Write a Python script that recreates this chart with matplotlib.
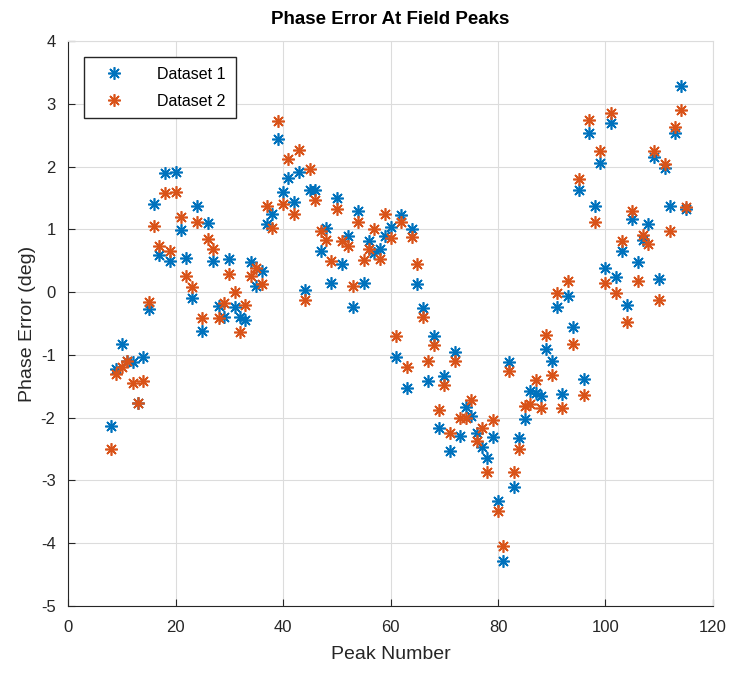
import matplotlib.pyplot as plt

peaks = list(range(8, 116))

dataset1 = [-2.13, -1.22, -0.82, -1.10, -1.12, -1.77, -1.04, -0.27, 1.40, 0.59,
            1.89, 0.50, 1.92, 0.99, 0.55, -0.09, 1.37, -0.62, 1.10, 0.49,
            -0.22, -0.39, 0.53, -0.24, -0.40, -0.45, 0.48, 0.10, 0.34, 1.09,
            1.24, 2.44, 1.60, 1.82, 1.43, 1.92, 0.03, 1.62, 1.62, 0.65,
            1.02, 0.14, 1.50, 0.45, 0.89, -0.23, 1.29, 0.15, 0.82, 0.63,
            0.68, 0.90, 1.03, -1.04, 1.23, -1.53, 1.00, 0.13, -0.25, -1.41,
            -0.70, -2.17, -1.33, -2.53, -0.96, -2.29, -1.83, -1.97, -2.25, -2.47,
            -2.64, -2.30, -3.33, -4.29, -1.12, -3.10, -2.32, -2.02, -1.58, -1.60,
            -1.65, -0.90, -1.10, -0.23, -1.62, -0.06, -0.55, 1.62, -1.39, 2.54,
            1.37, 2.06, 0.38, 2.70, 0.24, 0.66, -0.21, 1.17, 0.48, 0.83,
            1.09, 2.15, 0.21, 1.97, 1.37, 2.54, 3.28, 1.32]

dataset2 = [-2.50, -1.31, -1.20, -1.09, -1.44, -1.76, -1.42, -0.15, 1.05, 0.74,
            1.58, 0.65, 1.60, 1.19, 0.26, 0.08, 1.11, -0.41, 0.84, 0.68,
            -0.41, -0.18, 0.29, 0.00, -0.64, -0.21, 0.26, 0.39, 0.13, 1.37,
            1.02, 2.72, 1.41, 2.12, 1.25, 2.27, -0.13, 1.96, 1.46, 0.98,
            0.83, 0.49, 1.33, 0.81, 0.74, 0.10, 1.12, 0.51, 0.68, 1.00,
            0.53, 1.24, 0.87, -0.70, 1.11, -1.20, 0.88, 0.45, -0.39, -1.10,
            -0.84, -1.88, -1.48, -2.24, -1.10, -2.00, -2.00, -1.72, -2.37, -2.17,
            -2.86, -2.04, -3.49, -4.05, -1.26, -2.87, -2.50, -1.81, -1.79, -1.40,
            -1.85, -0.68, -1.32, -0.02, -1.85, 0.17, -0.82, 1.80, -1.64, 2.74,
            1.12, 2.25, 0.14, 2.86, -0.02, 0.81, -0.47, 1.29, 0.17, 0.91,
            0.77, 2.25, -0.12, 2.04, 0.98, 2.63, 2.90, 1.35]

labels = ["Dataset 1", "Dataset 2"]

plt.rcParams['font.family'] = ['Liberation Sans', 'DejaVu Sans']
plt.rcParams['axes.unicode_minus'] = False

fig = plt.figure(figsize=(7.33, 6.79), dpi=100)
ax = fig.add_axes([0.0928, 0.1075, 0.8799, 0.8321])

star = (8, 2, 0)
ax.plot(peaks, dataset1, linestyle='none', marker=star, color='#0072BD',
        markersize=9, markeredgewidth=1.2, label=labels[0])
ax.plot(peaks, dataset2, linestyle='none', marker=star, color='#D95319',
        markersize=9, markeredgewidth=1.2, label=labels[1])

ax.set_xlim(0, 120)
ax.set_ylim(-5, 4)
ax.set_xticks(range(0, 121, 20))
ax.set_yticks(range(-5, 5))
ax.grid(True, color='#dcdcdc', linewidth=0.8)
ax.set_axisbelow(True)
ax.tick_params(direction='in', labelsize=12, colors='#262626', length=5)
ax.tick_params(axis='x', pad=10)
ax.tick_params(axis='y', pad=9)
for side in ['left', 'bottom']:
    ax.spines[side].set_color('#262626')
for side in ['top', 'right']:
    ax.spines[side].set_color('#dcdcdc')

ax.set_title("Phase Error At Field Peaks", fontsize=13.5, fontweight='bold', pad=12)
ax.set_xlabel("Peak Number", fontsize=14, color='#262626', labelpad=8)
ax.set_ylabel("Phase Error (deg)", fontsize=14, color='#262626', labelpad=3)

leg = ax.legend(loc='upper left', fontsize=11.5, fancybox=False, framealpha=1,
                edgecolor='#262626', borderaxespad=1.0, handletextpad=1.4,
                handlelength=2.6, labelspacing=0.75, borderpad=0.6)
leg.get_frame().set_linewidth(1.0)

fig.savefig("out.png", dpi=100)
